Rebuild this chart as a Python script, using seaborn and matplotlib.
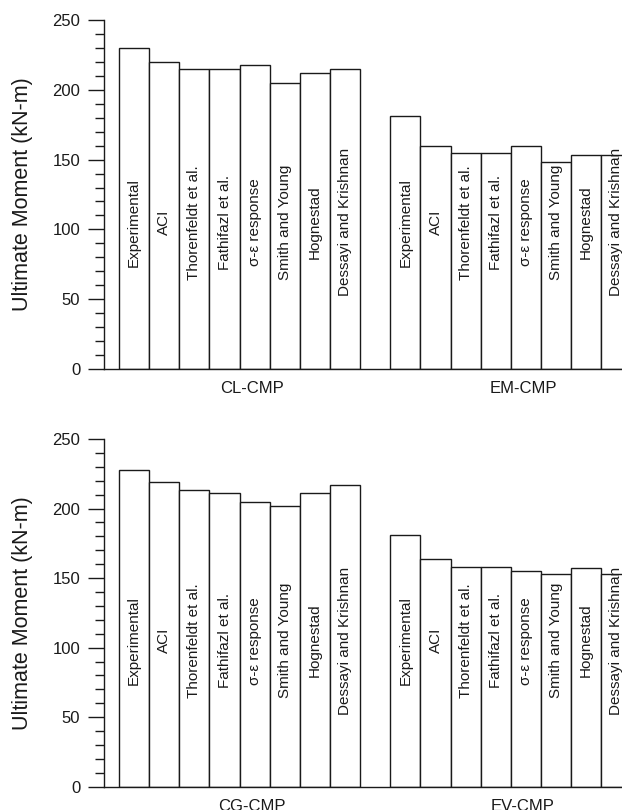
import matplotlib
matplotlib.use("Agg")
import matplotlib.pyplot as plt
from matplotlib.ticker import MultipleLocator
import pandas as pd
import seaborn as sns

# Prediction methods compared in every specimen group
methods = ["Experimental", "ACI", "Thorenfeldt et al.", "Fathifazl et al.",
           "\u03c3-\u03b5 response", "Smith and Young", "Hognestad",
           "Dessayi and Krishnan"]

# Ultimate moment (kN-m) per specimen group
cl_cmp = [230, 220, 215, 215, 218, 205, 212, 215]
em_cmp = [181, 160, 155, 155, 160, 148, 153, 153]
cg_cmp = [228, 219, 213, 211, 205, 202, 211, 217]
ev_cmp = [181, 164, 158, 158, 155, 153, 157, 153]

# Two panels, two specimen groups each
panels = [
    [("CL-CMP", cl_cmp), ("EM-CMP", em_cmp)],
    [("CG-CMP", cg_cmp), ("EV-CMP", ev_cmp)],
]

ylabel = "Ultimate Moment (kN-m)"

sns.set_style("ticks")
plt.rcParams["font.family"] = ["Liberation Sans", "DejaVu Sans"]

fig = plt.figure(figsize=(6.22, 8.10), dpi=100)

W, H = 622.0, 810.0
unit_px = 30.14
left_px = 104.0
x_lo, x_hi = -1.0, 17.5
ax_w = (x_hi - x_lo) * unit_px / W
frames = [(20.0, 369.0), (439.0, 786.7)]

for (top_px, bot_px), groups in zip(frames, panels):
    ax = fig.add_axes([left_px / W, 1 - bot_px / H, ax_w, (bot_px - top_px) / H])

    rows = []
    for g, (gname, vals) in enumerate(groups):
        start = g * (len(methods) + 1)
        for i, (m, v) in enumerate(zip(methods, vals)):
            rows.append({"group": gname, "method": m, "pos": start + i, "value": v})
    df = pd.DataFrame(rows)

    sns.barplot(data=df, x="pos", y="value", native_scale=True, width=1.0,
                color="white", saturation=1, edgecolor="#1a1a1a",
                linewidth=1.0, errorbar=None, ax=ax)

    for _, r in df.iterrows():
        ax.text(r["pos"], 105, r["method"], rotation=90, ha="center",
                va="center", fontsize=11, color="#1a1a1a")

    ax.set_xlim(x_lo, x_hi)
    ax.set_ylim(0, 250)
    ax.yaxis.set_major_locator(MultipleLocator(50))
    ax.yaxis.set_minor_locator(MultipleLocator(10))
    ax.tick_params(axis="y", which="major", length=11.5, width=1.0,
                   labelsize=12, pad=5.5, colors="#1a1a1a")
    ax.tick_params(axis="y", which="minor", length=6.5, width=1.0,
                   colors="#1a1a1a")

    centers = [g * (len(methods) + 1) + 3.9 for g in range(len(groups))]
    ax.set_xticks(centers)
    ax.set_xticklabels([gname for gname, _ in groups])
    ax.tick_params(axis="x", length=0, labelsize=12, pad=9, colors="#1a1a1a")
    ax.set_xlabel("")

    ax.set_ylabel(ylabel, fontsize=15.5, color="#1a1a1a")
    ax.yaxis.set_label_coords((33 - left_px) / (ax_w * W), 0.5)

    for side in ("top", "right"):
        ax.spines[side].set_visible(False)
    for side in ("left", "bottom"):
        ax.spines[side].set_linewidth(1.0)
        ax.spines[side].set_color("#1a1a1a")

fig.savefig("out.png", dpi=100)
